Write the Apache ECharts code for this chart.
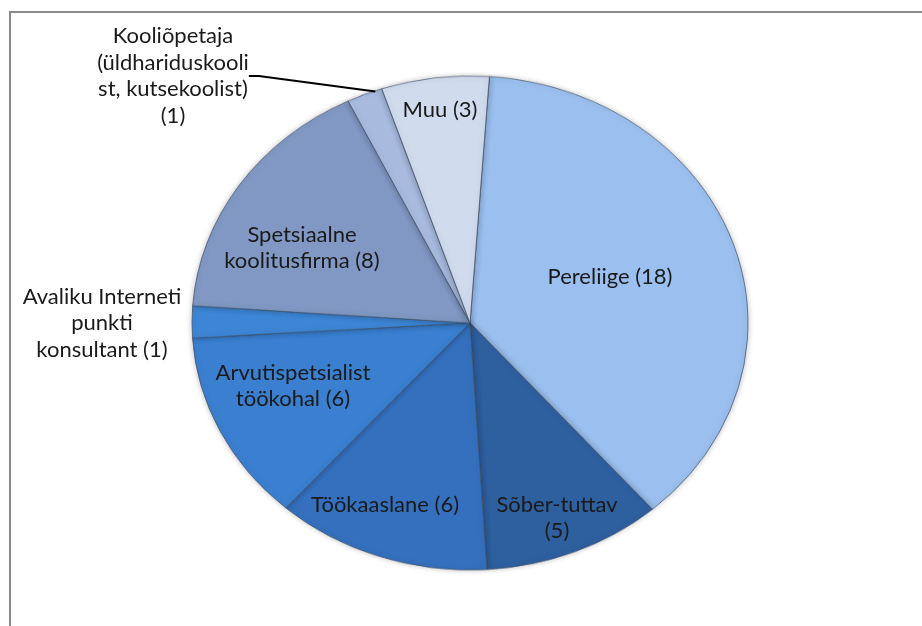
<!DOCTYPE html>
<html>
<head>
<meta charset="utf-8">
<script src="https://cdn.jsdelivr.net/npm/echarts@6/dist/echarts.min.js"></script>
<style>
  html, body { margin: 0; padding: 0; background: #fff; overflow: hidden; }
  #frame { position: absolute; left: 9px; top: 11px; width: 913px; height: 615px;
           border-top: 2px solid #8a8a8a; border-left: 2px solid #8a8a8a; box-sizing: border-box; }
  /* pie is drawn taller and squashed to look like the tilted original */
  #pie { position: absolute; left: 0; top: 0; width: 922px; height: 705px;
         transform: scaleY(0.8885); transform-origin: 0 0; }
  #labels { position: absolute; left: 0; top: 0; width: 922px; height: 626px; }
</style>
</head>
<body>
<div id="frame"></div>
<div id="pie"></div>
<div id="labels"></div>
<script>
// andmed
var categories = ['Pereliige', 'Sõber-tuttav', 'Töökaaslane', 'Arvutispetsialist töökohal',
  'Avaliku Interneti punkti konsultant', 'Spetsiaalne koolitusfirma',
  'Kooliõpetaja (üldhariduskoolist, kutsekoolist)', 'Muu']
var counts = [18, 5, 6, 6, 1, 8, 1, 3]
var labelTexts = [
  'Pereliige (18)',
  'Sõber-tuttav\n(5)',
  'Töökaaslane (6)',
  'Arvutispetsialist\ntöökohal (6)',
  'Avaliku Interneti\npunkti\nkonsultant (1)',
  'Spetsiaalne\nkoolitusfirma (8)',
  'Kooliõpetaja\n(üldhariduskooli\nst, kutsekoolist)\n(1)',
  'Muu (3)'
]

// välimus
var colors = ['#9bbfee', '#2e5f9f', '#3470bd', '#3a7fd0', '#3d86d6', '#8098c3', '#a8bade', '#d0dbee']
var labelX = [610, 557, 385, 293, 102, 302, 173, 440]
var labelY = [277, 518, 505, 386, 323, 248, 76, 110]
var outside = [false, false, false, false, true, false, true, false]
var START = 86

var pieChart = echarts.init(document.getElementById('pie'))
var labelChart = echarts.init(document.getElementById('labels'))

// viilud
pieChart.setOption({
  animation: false,
  series: [
    {
      type: 'pie',
      center: [470, 363.5],
      radius: 278,
      startAngle: START,
      clockwise: true,
      data: categories.map(function (name, i) {
        return { name: name, value: counts[i], itemStyle: { color: colors[i] } }
      }),
      itemStyle: {
        borderColor: 'rgba(60,75,100,0.7)',
        borderWidth: 1,
        shadowBlur: 6,
        shadowColor: 'rgba(0,0,0,0.25)'
      },
      label: { show: false },
      labelLine: { show: false }
    }
  ]
})

// sildid (läbipaistev pirukas samade andmetega)
labelChart.setOption({
  animation: false,
  series: [
    {
      type: 'pie',
      silent: true,
      center: [470, 323],
      radius: 250,
      startAngle: START,
      clockwise: true,
      avoidLabelOverlap: false,
      data: categories.map(function (name, i) {
        return {
          name: name,
          value: counts[i],
          label: { position: outside[i] ? 'outside' : 'inside' },
          labelLine: { show: i === 6 }
        }
      }),
      itemStyle: { color: 'rgba(0,0,0,0)', borderWidth: 0 },
      label: {
        show: true,
        formatter: function (p) { return labelTexts[p.dataIndex] },
        color: '#1a1a1a',
        fontFamily: 'Lato',
        fontSize: 22,
        lineHeight: 26.5,
        align: 'center'
      },
      labelLine: {
        length: 10,
        length2: 10,
        lineStyle: { color: '#000', width: 2 }
      },
      labelLayout: function (p) {
        return {
          x: labelX[p.dataIndex],
          y: labelY[p.dataIndex],
          align: 'center',
          verticalAlign: 'middle'
        }
      }
    }
  ]
})
</script>
</body>
</html>
